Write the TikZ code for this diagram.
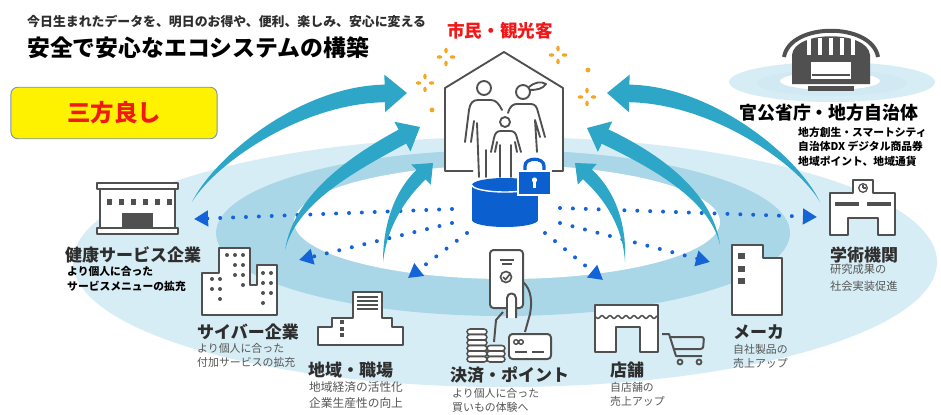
\documentclass[tikz,border=0pt]{standalone}
\usepackage{fontspec}
\setmainfont{Noto Sans CJK JP}
\usepackage{xcolor}
\usepackage{tikz}
\usetikzlibrary{calc, arrows.meta}

\definecolor{flowteal}{HTML}{2EA6C8}
\definecolor{dotblue}{HTML}{1464D8}
\definecolor{dbblue}{HTML}{0B5FCF}
\definecolor{ringpale}{HTML}{D7EDF5}
\definecolor{ringmid}{HTML}{A9D7E8}
\definecolor{icongray}{HTML}{505050}
\definecolor{sparkorange}{HTML}{F5A623}
\definecolor{titlered}{HTML}{F01818}
\definecolor{boxedge}{HTML}{7A94B5}
\definecolor{textgray}{HTML}{2E2E2E}
\definecolor{notegray}{HTML}{555555}

% tapered flow arrow: tail, control 1, control 2, tip, size
\newcommand{\flowarrow}[5]{%
  \coordinate (fa-b) at ($(#4)!19pt*#5!#3$);
  \coordinate (fa-bl) at ($(fa-b)!7.5pt*#5!90:#3$);
  \coordinate (fa-br) at ($(fa-b)!7.5pt*#5!-90:#3$);
  \coordinate (fa-hl) at ($(fa-b)!16pt*#5!90:#3$);
  \coordinate (fa-hr) at ($(fa-b)!16pt*#5!-90:#3$);
  \coordinate (fa-cl) at ($#3+(fa-bl)-(fa-b)$);
  \coordinate (fa-cr) at ($#3+(fa-br)-(fa-b)$);
  \coordinate (fa-dl) at ($#2+0.45*(fa-bl)-0.45*(fa-b)$);
  \coordinate (fa-dr) at ($#2+0.45*(fa-br)-0.45*(fa-b)$);
  \fill[flowteal] (#1) .. controls (fa-dl) and (fa-cl) .. (fa-bl) -- (fa-hl) -- (#4)
    -- (fa-hr) -- (fa-br) .. controls (fa-cr) and (fa-dr) .. (#1) -- cycle;
}

% four-petal sparkle
\newcommand{\sparkle}[1]{%
  \foreach \a in {0,90,180,270}
    \fill[sparkorange, shift={#1}, rotate=\a] (6.5,0) ellipse [x radius=2.8, y radius=1.8];
}

\begin{document}
\begin{tikzpicture}[x=0.03cm, y=-0.03cm,
    icon/.style={draw=icongray, fill=white, line width=1.7pt, line join=round},
    dotflow/.style={dotblue, line width=3.4pt, line cap=round,
      dash pattern=on 0pt off 11pt, -{Triangle[length=12pt, width=13pt]}},
    cat/.style={anchor=west, inner sep=0pt, text=textgray,
      font=\bfseries\fontsize{14.5}{17}\selectfont},
    note/.style={anchor=north west, inner sep=0pt, align=left, text=notegray,
      font=\fontsize{9.3}{12.3}\selectfont},
    notebold/.style={note, text=black, font=\bfseries\fontsize{9.2}{12.5}\selectfont}
  ]
  \useasboundingbox (0,0) rectangle (941,414);
  \fill[white] (0,0) rectangle (941,414);

  % rings
  \fill[ringpale] (505,262) ellipse [x radius=432, y radius=125];
  \fill[ringmid] (503,233) ellipse [x radius=287, y radius=83];
  \fill[white] (507,222) ellipse [x radius=213, y radius=57];

  \fill[ringpale] (832,82) ellipse [x radius=103, y radius=20];
  \fill[ringmid!55] (832,83) ellipse [x radius=75, y radius=13];
  \fill[white] (830,81) ellipse [x radius=50, y radius=9];

  % data flows out of the hub
  \coordinate (hub-l1) at (452,209);
  \coordinate (hub-l2) at (452,223);
  \coordinate (hub-l3) at (467,233);
  \coordinate (hub-r1) at (560,208);
  \coordinate (hub-r2) at (560,223);
  \coordinate (hub-r3) at (545,233);
  \coordinate (to-kenko) at (194,219);
  \coordinate (to-cyber) at (299,260);
  \coordinate (to-chiiki) at (408,278);
  \coordinate (to-gakujutsu) at (817,217);
  \coordinate (to-maker) at (710,262);
  \coordinate (to-tenpo) at (603,280);
  \draw[dotflow] (hub-l1) -- (to-kenko);
  \draw[dotflow] (hub-l2) -- (to-cyber);
  \draw[dotflow] (hub-l3) -- (to-chiiki);
  \draw[dotflow] (hub-r1) -- (to-gakujutsu);
  \draw[dotflow] (hub-r2) -- (to-maker);
  \draw[dotflow] (hub-r3) -- (to-tenpo);

  % value flowing back to citizens
  \coordinate (src-a) at (192,202);  \coordinate (tip-a) at (407,93);
  \coordinate (src-b) at (285,250);  \coordinate (tip-b) at (420,127);
  \coordinate (src-c) at (383,262);  \coordinate (tip-c) at (433,163);
  \coordinate (src-d) at (820,202);  \coordinate (tip-d) at (607,93);
  \coordinate (src-e) at (720,245);  \coordinate (tip-e) at (587,128);
  \coordinate (src-f) at (625,262);  \coordinate (tip-f) at (575,163);
  \flowarrow{src-a}{(215,160)}{(300,95)}{tip-a}{1}
  \flowarrow{src-b}{(295,200)}{(350,165)}{tip-b}{0.9}
  \flowarrow{src-c}{(385,225)}{(400,195)}{tip-c}{0.75}
  \flowarrow{src-d}{(798,160)}{(713,95)}{tip-d}{1}
  \flowarrow{src-e}{(712,200)}{(665,165)}{tip-e}{0.9}
  \flowarrow{src-f}{(625,225)}{(610,195)}{tip-f}{0.75}

  % house with family
  \fill[white] (445,171) -- (445,88) -- (504,52) -- (563,88) -- (563,171) -- cycle;
  \draw[icongray, line width=1.6pt, line join=round]
    (473,171) -- (445,171) -- (445,88) -- (504,52) -- (563,88) -- (563,171) -- (551,171);
  \begin{scope}[icongray, line width=1.6pt, line cap=round, line join=round]
    % father
    \draw (484,88) circle [radius=7];
    \draw (465,142) -- (469,110) .. controls (470,103) and (473,100) .. (478,100)
      -- (491,100) .. controls (496,100) and (499,104) .. (502,110);
    \draw (471,142) -- (474,121);
    \draw (477,123) -- (479,177);
    \draw (486,150) -- (486,177);
    % mother
    \draw (523,92) circle [radius=7];
    \draw (529,87) .. controls (535,82) and (541,81) .. (546,84) .. controls (543,89) and (536,90) .. (530,90);
    \draw (508,113) .. controls (510,106) and (513,104) .. (517,104) -- (531,104)
      .. controls (535,104) and (537,107) .. (538,112) -- (545,137);
    \draw (540,137) -- (535,120) -- (537,152);
    % child
    \draw (505,122) circle [radius=5];
    \draw (491,152) -- (494,138) .. controls (495,133) and (497,131) .. (501,131)
      -- (510,131) .. controls (514,131) and (516,133) .. (517,138) -- (521,152);
    \draw (495,152) -- (497,142);
    \draw (517,152) -- (515,142);
    \draw (500,145) -- (500,177);
    \draw (511,145) -- (511,177);
  \end{scope}

  % data store and lock
  \fill[dbblue] (472,185) rectangle (538,220);
  \fill[dbblue] (505,220) ellipse [x radius=33, y radius=7];
  \fill[dbblue] (505,185) ellipse [x radius=33, y radius=7];
  \draw[white, line width=1.2pt] (538,185) arc [start angle=0, end angle=180, x radius=33, y radius=7];
  \draw[dbblue, line width=2.8pt] (525,172) -- (525,166) .. controls (525,157) and (544,157) .. (544,166) -- (544,172);
  \filldraw[fill=dbblue, draw=white, line width=1pt] (518,171) rectangle (551,195);
  \fill[white] (534.5,180) circle [radius=2.6];
  \fill[white] (533.3,181) rectangle (535.7,188);

  % sparkles
  \sparkle{(446,57)}
  \sparkle{(425,83)}
  \sparkle{(558,55)}
  \sparkle{(587,97)}
  \fill[sparkorange] (432,110) circle [radius=2.4];
  \fill[sparkorange] (588,70) circle [radius=2.4];

  % health service company
  \filldraw[icon] (97,183) rectangle (178,189);
  \filldraw[icon] (100,189) rectangle (175,228);
  \filldraw[icon] (97,228) rectangle (178,234);
  \foreach \wx in {107,119,...,167}
    \fill[icongray] (\wx,199) rectangle +(5,6);
  \fill[icongray] (122,213) rectangle (153,228);

  % cyber company
  \filldraw[icon] (202,315) -- (202,273) -- (219,273) -- (219,248) -- (250,248) -- (250,285)
    -- (257,285) -- (257,265) -- (277,265) -- (277,315) -- cycle;
  \foreach \p in {(212,279),(220,279),(212,289),(220,289),(220,299),
                  (227,255),(235,255),(243,255),(235,265),(243,265),(235,275),(243,275),(243,285),
                  (263,273),(271,273),(263,283),(271,283),(263,293),(271,293),(263,303)}
    \fill[icongray] \p circle [radius=2];

  % region and workplace
  \filldraw[icon] (318,345) -- (318,327) -- (332,327) -- (332,318) -- (353,318) -- (353,292)
    -- (382,292) -- (382,318) -- (392,318) -- (392,327) -- (403,327) -- (403,345) -- cycle;
  \foreach \sy in {297,301,305,309}
    \draw[icongray, line width=1pt] (357,\sy) -- (378,\sy);
  \foreach \sy in {320,326.5,333}
    \fill[icongray] (340,\sy) rectangle +(4,4);

  % payment
  \filldraw[icon, rounded corners=3pt] (490,250) rectangle (523,308);
  \draw[icongray, line width=1pt] (500,260) -- (514,260) (502,264) -- (512,264);
  \draw[icongray, line width=1.4pt] (506,277) circle [radius=5.5];
  \draw[icongray, line width=1.4pt] (503,277) -- (505.5,279.5) -- (510,274);
  \draw[icon, fill=none] (523,282) .. controls (532,290) and (532,303) .. (530,314) -- (525,332);
  \filldraw[icon] (507,318) -- (507,298) .. controls (507,292) and (516,292) .. (516,298) -- (516,318);
  \draw[icon, fill=none] (503,312) -- (496,320) -- (494,342);
  \foreach \cy in {329,334.5,340,345.5,351,356.5}
    \filldraw[icon, line width=1.3pt, rounded corners=2.5pt] (467,\cy) rectangle (487,\cy+5.5);
  \foreach \cy in {345.5,351,356.5}
    \filldraw[icon, line width=1.3pt, rounded corners=2.5pt] (487,\cy) rectangle (505,\cy+5.5);
  \filldraw[icon, rounded corners=3pt] (509,334) rectangle (551,359);
  \draw[icongray, line width=1.2pt] (516,342) circle [radius=2.3] (521,342) circle [radius=2.3];
  \draw[icongray, line width=1.4pt] (515,352) -- (527,352) (532,352) -- (544,352);

  % shop
  \filldraw[icon] (595,352) -- (595,305) -- (658,305) -- (658,352) -- (640,352) -- (640,327)
    -- (616,327) -- (616,352) -- cycle;
  \draw[icongray, line width=1.3pt] plot[domain=0:61, samples=80] (596+\x, {317+1.4*sin(\x*45)});
  \draw[icon, fill=none] (662,334) -- (669,334) -- (676,356) -- (702,356);
  \draw[icon, fill=none, rounded corners=2pt] (671,337) -- (704,337) -- (703,349) -- (674,349);
  \draw[icongray, line width=1.5pt] (680,362) circle [radius=2.5] (699,362) circle [radius=2.5];

  % maker
  \filldraw[icon] (732,315) -- (732,245) -- (763,245) -- (763,258) -- (782,258) -- (782,315) -- cycle;
  \foreach \sy in {253,266,278}
    \fill[icongray] (738,\sy) rectangle +(7,6);

  % academic institution
  \filldraw[icon] (830,235) -- (830,193) -- (853,193) -- (853,180) -- (873,180) -- (873,193)
    -- (895,193) -- (895,235) -- (878,235) -- (878,218) -- (848,218) -- (848,235) -- cycle;
  \draw[icongray, line width=2.6pt] (835,204) -- (859,204) (867,204) -- (891,204);
  \draw[icongray, line width=1.1pt] (863,188) circle [radius=4.3];
  \draw[icongray, line width=0.9pt] (863,188) -- (863,185) (863,188) -- (865.5,188);

  % government
  \draw[icongray, line width=3.4pt] (784,57) .. controls (790,22) and (872,22) .. (878,57);
  \fill[icongray] (792,84) -- (792,55) .. controls (794,30) and (868,30) .. (870,55) -- (870,84) -- cycle;
  \foreach \sx in {809,820,831,842,853}
    \fill[white] (\sx-2,38) rectangle (\sx+2,55);
  \filldraw[fill=white, draw=icongray, line width=1pt] (810,61) rectangle (852,80);
  \draw[icongray, line width=1.5pt] (812,75) -- (850,75);
  \fill[icongray] (808,86) rectangle (854,91);

  % headings
  \node[anchor=west, inner sep=0pt, text=textgray, font=\bfseries\fontsize{11}{13}\selectfont] (lead) at (27,22)
    {今日生まれたデータを、明日のお得や、便利、楽しみ、安心に変える};
  \node[anchor=west, inner sep=0pt, text=black, font=\bfseries\fontsize{19.5}{22}\selectfont] (headline) at (27,48)
    {安全で安心なエコシステムの構築};
  \node[draw=boxedge, fill=yellow, rounded corners=6pt, line width=0.8pt, minimum width=176pt,
    minimum height=44pt, text=titlered, font=\bfseries\fontsize{20}{22}\selectfont] (sanpo) at (114,113) {三方良し};
  \node[text=titlered, inner sep=0pt, font=\bfseries\fontsize{15}{17}\selectfont] (citizens) at (500,31) {市民・観光客};

  % stakeholder labels
  \node[cat, text=black, font=\bfseries\fontsize{15.3}{18}\selectfont] (kankocho) at (739,113) {官公省庁・地方自治体};
  \node[notebold, font=\bfseries\fontsize{9.2}{12.3}\selectfont] at (798,127)
    {地方創生・スマートシティ\\自治体DX デジタル商品券\\地域ポイント、地域通貨};

  \node[cat] (kenko) at (65,255) {健康サービス企業};
  \node[notebold, font=\bfseries\fontsize{9.2}{12.8}\selectfont] at (67,266) {より個人に合った\\サービスメニューの拡充};

  \node[cat] (cyber) at (197,332) {サイバー企業};
  \node[note] at (197,343) {より個人に合った\\付加サービスの拡充};

  \node[cat] (chiiki) at (308,370) {地域・職場};
  \node[note, font=\fontsize{10}{13.6}\selectfont] at (309,381) {地域経済の活性化\\企業生産性の向上};

  \node[cat] (kessai) at (450,375) {決済・ポイント};
  \node[note] at (452,388) {より個人に合った\\買いもの体験へ};

  \node[cat] (tenpo) at (610,370) {店舗};
  \node[note] at (610,382) {自店舗の\\売上アップ};

  \node[cat] (maker) at (733,332) {メーカ};
  \node[note] at (733,344) {自社製品の\\売上アップ};

  \node[cat] (gakujutsu) at (830,255) {学術機関};
  \node[note, font=\fontsize{9.6}{14.4}\selectfont] at (830,264) {研究成果の\\社会実装促進};
\end{tikzpicture}
\end{document}
